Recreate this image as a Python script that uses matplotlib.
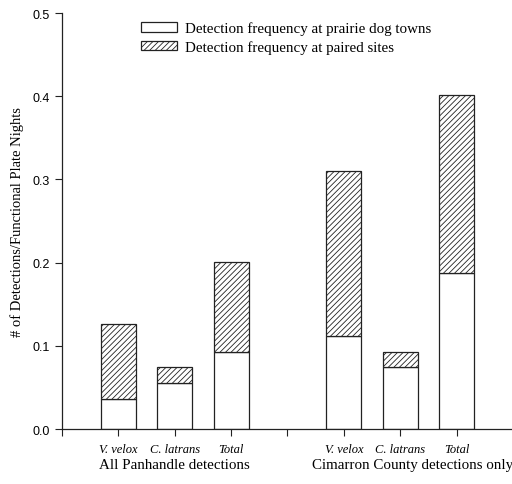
import matplotlib
matplotlib.use("Agg")
import matplotlib.pyplot as plt
import numpy as np

categories = ["V. velox", "C. latrans", "Total", "V. velox", "C. latrans", "Total"]
groups = ["All Panhandle detections", "Cimarron County detections only"]
positions = [1, 2, 3, 5, 6, 7]
prairie_dog = [0.036, 0.055, 0.092, 0.112, 0.074, 0.187]
total_top = [0.126, 0.074, 0.201, 0.310, 0.093, 0.402]
paired = [t - p for t, p in zip(total_top, prairie_dog)]
yticks = [0.0, 0.1, 0.2, 0.3, 0.4, 0.5]
ytick_labels = ["0.0", "0.1", "0.2", "0.3", "0.4", "0.5"]

plt.rcParams['hatch.linewidth'] = 0.6
plt.rcParams['hatch.color'] = '#333333'

fig = plt.figure(figsize=(5.12, 4.85), dpi=100)
ax = fig.add_axes([0.121, 0.1134, 0.881, 0.8575])

serif = "Liberation Serif"
w = 0.62
ax.bar(positions, prairie_dog, width=w, color="white", edgecolor="#222222", linewidth=0.9,
       label="Detection frequency at prairie dog towns")
ax.bar(positions, paired, width=w, bottom=prairie_dog, color="white", edgecolor="#222222",
       linewidth=0.9, hatch="//////", label="Detection frequency at paired sites")

ax.set_xlim(0, 8)
ax.set_ylim(0, 0.5)
ax.set_yticks(yticks)
ax.set_yticklabels(ytick_labels, fontname="Liberation Sans", fontsize=9)
ax.set_xticks(range(0, 9))
ax.set_xticklabels([])
ax.tick_params(axis='both', direction='out', length=5, width=0.8, colors="#222222")
ax.tick_params(axis='y', labelcolor="black")
for s in ["top", "right"]:
    ax.spines[s].set_visible(False)
for s in ["left", "bottom"]:
    ax.spines[s].set_linewidth(0.9)
    ax.spines[s].set_color("#222222")

for x, c in zip(positions, categories):
    ax.text(x, -0.0235, c, ha="center", va="center", fontname=serif, style="italic", fontsize=9)
ax.text(2, -0.0425, groups[0], ha="center", va="center", fontname=serif, fontsize=10.8)
ax.text(6.22, -0.0425, groups[1], ha="center", va="center", fontname=serif, fontsize=10.8)

ax.set_ylabel("# of Detections/Functional Plate Nights", fontname=serif, fontsize=10.5, labelpad=6)

leg = ax.legend(loc="upper left", bbox_to_anchor=(0.145, 1.012), frameon=False,
                prop={"family": serif, "size": 10.8}, handlelength=2.4, handleheight=0.6,
                handletextpad=0.55, labelspacing=0.3)

fig.savefig("out.png", dpi=100)
